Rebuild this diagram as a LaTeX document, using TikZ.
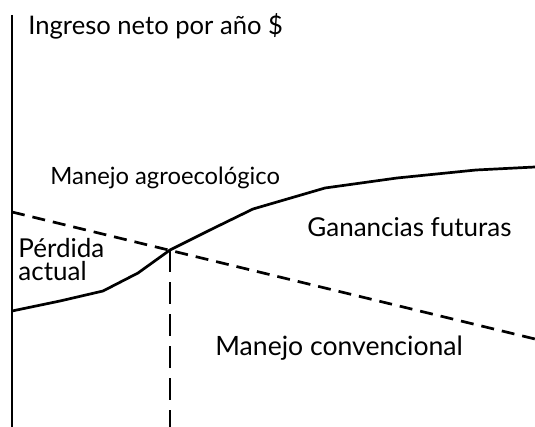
\documentclass[tikz,border=0pt]{standalone}
\usepackage{fontspec}
\setmainfont{Lato}
\usetikzlibrary{positioning}

\begin{document}
\begin{tikzpicture}[x=0.5pt,y=-0.5pt,
  axisline/.style={line width=1.4pt},
  curve/.style={line width=1.35pt, line join=round},
  dashline/.style={line width=1.35pt, dash pattern=on 6.5pt off 4pt},
  longdash/.style={line width=1.2pt, dash pattern=on 11pt off 5pt},
  lbl/.style={anchor=base west, inner sep=0pt, font=\fontsize{13}{14}\selectfont}]
\useasboundingbox (0,0) rectangle (535,427);
% Axis
\draw[axisline] (12,15) -- (12,427);
% Conventional management (dashed)
\draw[dashline] (12,212) -- (535,339);
% Agroecological management
\draw[curve] (12,311) -- (60,301) -- (103,291) -- (138,273) -- (170,250)
  -- (210,230) -- (253,209) -- (325,188) -- (397,178) -- (476,170) -- (535,167);
% Crossing point
\coordinate (cross) at (170,250);
\coordinate (bottom) at (170,427);
\draw[longdash] (cross) -- (bottom);
% Labels
\node[lbl, font=\fontsize{12.8}{14}\selectfont] (ingreso) at (28,35) {Ingreso neto por año \$};
\node[lbl, font=\fontsize{11.9}{14}\selectfont] (agro) at (50,185) {Manejo agroecológico};
\node[lbl] (perdida) at (18,257) {Pérdida};
\node[lbl] (actual) at (18,280) {actual};
\node[lbl] (ganancias) at (307,237) {Ganancias futuras};
\node[lbl, font=\fontsize{13.3}{14}\selectfont] (conv) at (215,355) {Manejo convencional};
\end{tikzpicture}
\end{document}
